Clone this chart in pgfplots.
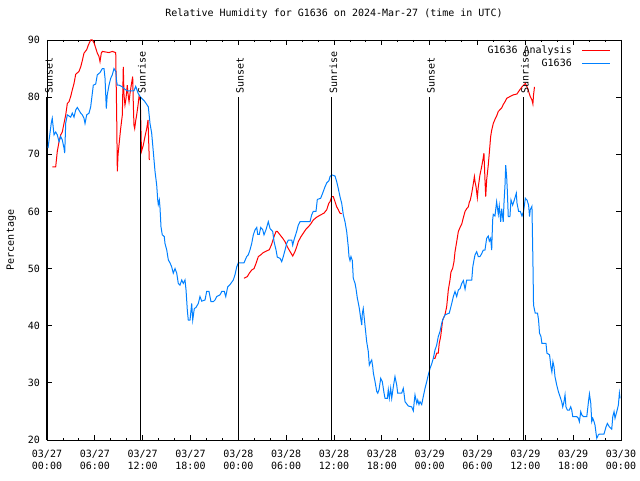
\documentclass[border=0pt]{standalone}
\usepackage{fontspec}
\setmainfont{DejaVu Sans Mono}
\usepackage{pgfplots}
\pgfplotsset{compat=1.18}
\definecolor{gred}{RGB}{255,0,0}
\definecolor{gblue}{RGB}{0,128,255}
\begin{document}
\begin{tikzpicture}[font=\fontsize{10}{12}\selectfont]
\useasboundingbox (0,0) rectangle (640pt,480pt);
\begin{axis}[
 at={(47pt,40pt)}, anchor=south west,
 scale only axis, width=574pt, height=400pt,
 xmin=0, xmax=72, ymin=20, ymax=90,
 clip=false,
 xtick={0,6,...,72},
 xticklabels={{03/27\\00:00},{03/27\\06:00},{03/27\\12:00},{03/27\\18:00},{03/28\\00:00},{03/28\\06:00},{03/28\\12:00},{03/28\\18:00},{03/29\\00:00},{03/29\\06:00},{03/29\\12:00},{03/29\\18:00},{03/30\\00:00}},
 minor x tick num=2,
 ytick={20,30,...,90},
 /pgf/number format/assume math mode=true,
 xticklabel style={align=center, yshift=-7pt},
 yticklabel style={xshift=-3.5pt},
 major tick length=5pt, minor tick length=2.5pt,
 tick style={black, line width=0.8pt},
 axis line style={line width=0.8pt},
 title={Relative Humidity for G1636 on 2024-Mar-27 (time in UTC)},
 title style={at={(axis description cs:0.5,1)}, anchor=base, yshift=17pt, inner sep=0pt},
 ylabel={Percentage},
 ylabel style={at={(axis description cs:-0.0575,0.5)}, anchor=base, inner sep=0pt},
 unbounded coords=jump,
 legend style={draw=none, fill=none, at={(axis description cs:1,1)}, anchor=north east, xshift=-10pt, yshift=-4pt, inner sep=0pt, row sep=0pt, column sep=8pt},
 legend cell align=right,
 legend plot pos=right,
 legend image code/.code={\draw[#1] plot coordinates {(0pt,0pt) (14pt,0pt) (28pt,0pt)};},
]
\addplot[gred, line width=1pt] coordinates {
(0.66,67.8) (1.09,67.8) (1.29,70.5) (1.51,72.2) (1.72,73.4) (1.92,73.9) (2.13,75.4) (2.35,76.9) (2.55,78.9) (2.76,79.2) (2.97,80.1) (3.17,81.25) (3.39,82.4) (3.60,84.0) (4.01,84.5) (4.23,85.3) (4.43,86.4) (4.64,87.7) (4.98,88.3) (5.18,89.1) (5.48,90.0) (5.68,90.0) (5.90,89.5) (6.11,88.6) (6.31,87.7) (6.52,87.1) (6.65,86.2) (6.81,87.7) (6.94,88.0) (7.36,87.9) (7.78,87.8) (8.19,88.0) (8.62,87.8) (8.74,76.9) (8.82,67.0) (8.91,69.9) (9.03,71.6) (9.24,74.5) (9.45,76.9) (9.57,85.3) (9.66,80.4) (9.78,78.6) (9.91,79.8) (10.07,82.1) (10.16,80.6) (10.29,79.2) (10.41,80.6) (10.57,82.1) (10.75,83.6) (10.83,78.6) (10.91,75.1) (11.00,74.5) (11.13,75.9) (11.25,76.9) (11.42,78.6) (11.54,80.1) (11.70,79.5) (11.85,70.5) (12.08,71.6) (12.29,73.1) (12.51,74.5) (12.67,76.0) (12.83,69.0)
(18.0,nan)
(24.71,48.3) (25.13,48.6) (25.38,49.2) (25.68,49.75) (25.97,50.0) (26.22,50.9) (26.51,52.1) (26.81,52.4) (27.13,52.8) (27.56,53.1) (27.89,53.3) (28.19,54.3) (28.48,55.6) (28.73,56.5) (28.89,56.5) (29.23,55.9) (29.57,55.3) (29.86,54.7) (30.15,53.8) (30.48,53.0) (30.82,52.2) (31.11,53.0) (31.32,53.8) (31.52,54.7) (31.82,55.5) (32.15,56.2) (32.49,56.9) (32.78,57.3) (33.08,57.8) (33.40,58.5) (33.83,59.0) (34.33,59.4) (34.75,59.7) (35.09,60.3) (35.34,61.4) (35.50,61.7) (35.71,62.6) (35.91,62.6) (36.13,61.7) (36.34,60.8) (36.54,60.3) (36.75,59.7) (36.97,59.6)
(42.0,nan)
(48.46,34.3) (48.67,34.3) (48.88,35.2) (49.08,35.2) (49.20,36.9) (49.38,38.1) (49.51,39.55) (49.63,41.0) (49.92,41.9) (50.13,43.3) (50.21,44.4) (50.34,46.25) (50.55,48.0) (50.67,49.4) (50.88,50.0) (51.05,51.2) (51.18,52.95) (51.39,54.7) (51.60,56.5) (51.81,57.2) (52.03,57.8) (52.15,58.5) (52.32,59.4) (52.44,60.0) (52.65,60.5) (52.85,60.8) (52.97,61.6) (53.10,62.0) (53.28,63.2) (53.48,64.9) (53.61,66.1) (53.69,65.2) (53.82,64.3) (53.98,62.4) (54.10,64.3) (54.31,66.4) (54.52,67.8) (54.65,68.8) (54.81,70.2) (54.94,65.5) (55.03,62.6) (55.15,65.5) (55.35,68.1) (55.48,70.2) (55.65,73.1) (55.78,74.2) (55.98,75.4) (56.19,76.1) (56.40,76.7) (56.61,77.5) (57.03,78.1) (57.23,78.7) (57.45,79.2) (57.66,79.8) (58.07,80.1) (58.49,80.4) (58.95,80.55) (59.16,81.0) (59.37,81.4) (59.58,81.8) (59.78,82.1) (60.00,82.4) (60.21,81.8) (60.41,81.0) (60.62,80.1) (60.83,79.5) (60.95,78.8) (61.03,80.4) (61.15,81.8)
};
\addlegendentry{G1636 Analysis}
\addplot[gblue, line width=1pt] coordinates {
(0.13,71.1) (0.54,75.5) (0.66,76.3) (0.88,73.4) (1.09,73.9) (1.29,73.4) (1.51,72.2) (1.72,73.1) (1.92,72.5) (2.13,71.1) (2.22,70.2) (2.35,75.5) (2.55,76.9) (2.97,76.5) (3.17,77.2) (3.39,76.5) (3.60,77.75) (3.80,78.2) (4.23,77.2) (4.43,76.9) (4.64,76.3) (4.77,75.4) (4.98,76.9) (5.27,77.2) (5.48,78.3) (5.81,82.1) (6.11,82.3) (6.31,83.9) (6.65,84.3) (6.94,85.0) (7.15,85.0) (7.28,83.3) (7.44,78.0) (7.56,80.4) (7.78,82.1) (7.99,83.3) (8.19,83.9) (8.40,85.0) (8.62,84.5) (8.74,82.7) (8.82,82.1) (9.03,82.1) (9.45,81.8) (9.66,81.5) (10.07,81.1) (10.50,81.1) (10.91,81.1) (11.13,81.9) (11.42,80.7) (11.73,80.0) (12.17,79.4) (12.38,79.0) (12.71,78.3) (12.92,75.4) (13.13,73.7) (13.33,70.5) (13.55,67.0) (13.76,64.6) (13.89,62.0) (13.96,61.2) (14.09,62.0) (14.17,60.8) (14.30,57.3) (14.46,55.9) (14.71,55.6) (14.80,54.4) (15.02,53.25) (15.22,51.5) (15.43,51.0) (15.64,50.3) (15.84,49.2) (16.06,50.0) (16.27,49.2) (16.47,47.4) (16.68,47.1) (16.90,48.0) (17.10,47.4) (17.31,48.0) (17.44,46.25) (17.60,42.75) (17.72,41.0) (17.94,41.0) (18.15,43.9) (18.28,41.0) (18.48,43.0) (18.69,43.2) (18.98,43.9) (19.19,45.1) (19.41,44.3) (19.82,44.5) (20.03,46.0) (20.32,46.0) (20.57,44.2) (20.86,44.2) (21.07,44.5) (21.29,45.1) (21.70,45.4) (21.92,46.0) (22.24,46.0) (22.42,45.1) (22.67,46.8) (22.96,47.2) (23.37,48.0) (23.58,48.9) (23.80,50.3) (24.00,51.0) (24.71,51.0) (25.05,52.1) (25.25,52.4) (25.46,53.25) (25.68,54.4) (25.88,55.9) (26.09,56.75) (26.31,57.2) (26.43,56.0) (26.63,56.0) (26.81,57.2) (27.06,56.8) (27.22,55.9) (27.47,56.8) (27.76,58.2) (27.98,57.0) (28.31,56.5) (28.48,54.7) (28.73,53.25) (28.89,52.0) (29.23,51.8) (29.44,51.2) (29.64,52.1) (29.86,53.25) (30.07,54.4) (30.27,55.0) (30.70,55.0) (30.82,54.1) (30.98,55.0) (31.32,56.5) (31.52,57.6) (31.74,58.2) (32.99,58.2) (33.20,59.4) (33.40,60.0) (33.74,60.0) (33.91,62.1) (34.33,62.3) (34.58,63.2) (34.87,64.3) (35.09,65.0) (35.37,65.4) (35.50,66.1) (35.71,66.4) (36.13,66.2) (36.34,65.2) (36.54,64.0) (36.75,62.6) (36.97,61.4) (37.17,59.4) (37.38,58.2) (37.59,56.5) (37.79,53.8) (37.88,52.1) (38.01,51.4) (38.13,52.1) (38.30,51.4) (38.42,48.3) (38.64,47.4) (38.76,46.5) (38.93,44.8) (39.05,44.0) (39.18,43.0) (39.35,41.3) (39.48,40.1) (39.55,42.1) (39.67,43.0) (39.80,41.3) (39.93,39.5) (40.10,37.2) (40.30,35.5) (40.43,33.1) (40.61,33.7) (40.73,34.0) (40.86,32.8) (40.94,31.7) (41.15,30.2) (41.36,28.5) (41.49,28.2) (41.65,28.8) (41.86,30.8) (42.06,30.2) (42.28,28.2) (42.40,27.3) (42.69,27.3) (42.81,28.8) (42.94,27.3) (43.11,29.05) (43.24,27.3) (43.44,29.3) (43.65,31.1) (43.87,29.6) (43.99,28.2) (44.49,28.2) (44.69,29.05) (44.78,28.2) (44.91,26.7) (45.32,25.95) (45.75,25.8) (45.95,25.1) (46.08,26.9) (46.16,27.9) (46.38,26.4) (46.50,27.0) (46.66,26.2) (46.79,26.7) (47.00,26.2) (47.20,27.6) (47.42,29.05) (47.63,30.2) (47.83,31.4) (48.04,32.5) (48.25,33.3) (48.46,34.3) (48.67,35.75) (48.88,36.6) (49.08,38.1) (49.30,39.0) (49.51,40.4) (49.63,41.0) (49.92,41.9) (50.46,42.2) (50.77,43.9) (50.97,45.1) (51.18,46.0) (51.39,45.1) (51.60,46.25) (51.81,46.5) (52.03,47.4) (52.23,47.9) (52.44,46.4) (52.65,48.0) (53.28,48.0) (53.41,50.3) (53.56,51.5) (53.69,52.4) (53.90,52.95) (54.10,52.1) (54.31,52.1) (54.52,52.6) (54.73,53.25) (54.94,53.25) (55.15,55.3) (55.35,55.7) (55.48,54.8) (55.65,55.3) (55.78,53.25) (55.90,58.5) (55.98,59.5) (56.19,59.2) (56.40,61.7) (56.61,59.5) (56.73,61.0) (56.91,58.2) (57.03,60.5) (57.23,58.2) (57.32,61.4) (57.45,64.6) (57.54,68.1) (57.66,66.0) (57.74,63.7) (57.86,59.1) (58.07,59.1) (58.20,62.0) (58.41,61.1) (58.62,62.0) (58.87,63.2) (58.95,61.5) (59.16,60.0) (59.37,60.0) (59.58,59.2) (59.78,60.0) (60.00,62.3) (60.21,62.0) (60.41,61.1) (60.53,59.1) (60.62,60.3) (60.83,60.9) (60.95,51.5) (61.03,43.6) (61.24,42.2) (61.53,42.2) (61.66,41.0) (61.78,38.7) (61.96,38.1) (62.08,36.9) (62.59,36.9) (62.71,35.2) (63.04,34.9) (63.21,32.8) (63.33,31.9) (63.46,33.7) (63.60,32.8) (63.72,31.1) (63.94,29.6) (64.14,28.5) (64.35,27.6) (64.56,26.7) (64.69,25.8) (64.85,26.7) (64.98,27.9) (65.10,25.8) (65.27,25.25) (65.52,25.25) (65.69,25.8) (65.82,25.25) (65.95,24.1) (66.45,24.1) (66.65,23.8) (66.78,23.2) (66.95,24.95) (67.08,24.4) (67.28,24.1) (67.71,24.1) (67.91,26.6) (68.04,28.05) (68.21,26.4) (68.33,23.2) (68.46,23.8) (68.62,23.2) (68.74,22.6) (68.87,21.2) (68.96,20.3) (69.16,20.9) (69.29,21.05) (69.87,21.05) (70.12,22.3) (70.29,22.9) (70.54,22.3) (70.84,21.9) (70.97,24.1) (71.13,24.95) (71.25,23.8) (71.47,24.95) (71.67,26.1) (71.80,28.2) (71.88,27.3)
};
\addlegendentry{G1636}
\foreach \sx/\lab in {0/Sunset,11.67/Sunrise,23.96/Sunset,35.69/Sunrise,47.92/Sunset,59.71/Sunrise}{
 \edef\temp{\noexpand\draw[black, line width=1pt] (axis cs:\sx,20) -- (axis cs:\sx,80);
 \noexpand\node[rotate=90, anchor=base west, inner sep=0pt] at ([xshift=5.5pt]axis cs:\sx,80.6) {\lab};}
 \temp
}
\end{axis}
\end{tikzpicture}
\end{document}
